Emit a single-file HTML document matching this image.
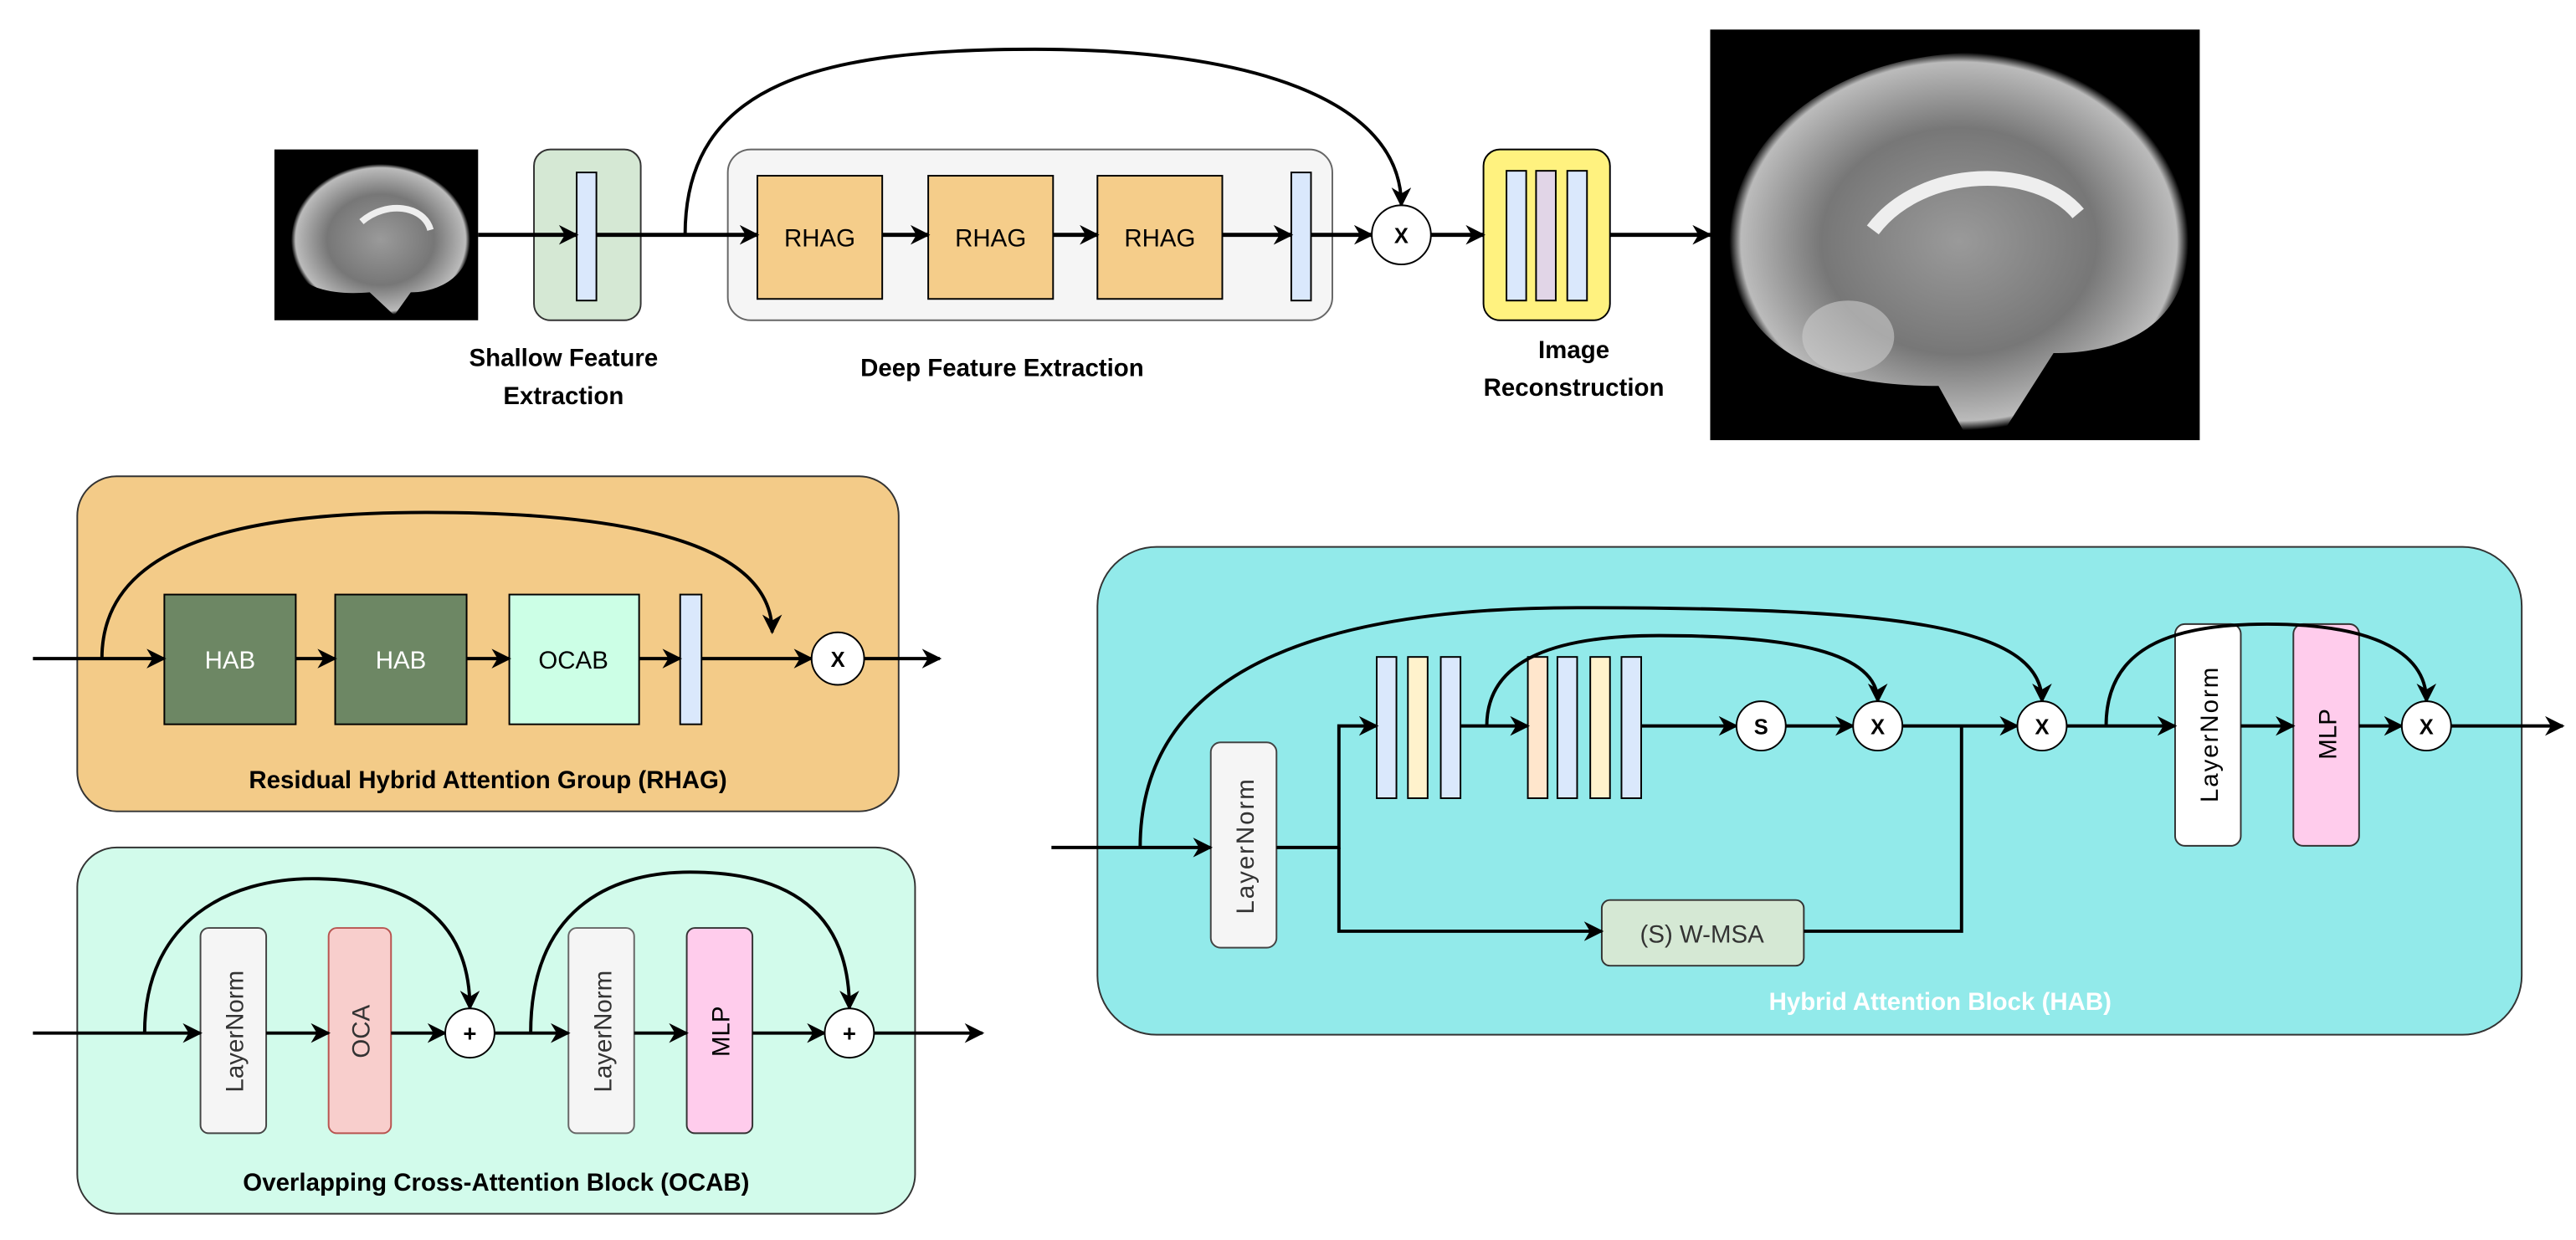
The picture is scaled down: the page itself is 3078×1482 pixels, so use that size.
<!DOCTYPE html>
<html><head><meta charset="utf-8"><style>
html,body{margin:0;padding:0;background:#fff;}
svg{display:block;}
text{font-family:"Liberation Sans",sans-serif;}
</style></head><body>
<svg width="3078" height="1482" viewBox="0 0 1568 755" xmlns="http://www.w3.org/2000/svg">
<defs>
<marker id="a" viewBox="0 0 10 10" refX="9" refY="5" markerWidth="5" markerHeight="6" orient="auto" markerUnits="userSpaceOnUse"><path d="M0,0 L10,5 L0,10 L3,5 z" fill="#000"/></marker>
<marker id="b" viewBox="0 0 10 10" refX="9" refY="5" markerWidth="12" markerHeight="12" orient="auto" markerUnits="userSpaceOnUse"><path d="M0,0 L10,5 L0,10 L3,5 z" fill="#000"/></marker>
<radialGradient id="br" cx="50%" cy="50%" r="50%"><stop offset="0" stop-color="#9a9a9a"/><stop offset="0.6" stop-color="#777"/><stop offset="0.95" stop-color="#bbb"/><stop offset="1" stop-color="#000"/></radialGradient>
</defs>
<g stroke-linecap="butt">
<!-- TOP ROW -->
<rect x="167" y="91" width="124" height="104" fill="#000"/>
<path d="M178,160 C172,120 200,98 235,100 C270,102 288,125 286,150 C284,170 265,178 250,178 L240,192 L225,178 C200,180 182,175 178,160z" fill="url(#br)"/>
<path d="M220,135 C235,122 258,125 262,140" stroke="#eee" stroke-width="4" fill="none"/>
<rect x="1041" y="18" width="298" height="250" fill="#000"/>
<path d="M1055,170 C1040,100 1100,35 1200,32 C1290,30 1335,80 1332,150 C1330,200 1290,215 1250,215 L1220,262 L1195,262 L1180,235 C1120,235 1070,220 1055,170z" fill="url(#br)"/>
<path d="M1140,140 C1170,100 1240,100 1265,130" stroke="#eee" stroke-width="9" fill="none"/>
<ellipse cx="1125" cy="205" rx="28" ry="22" fill="#ccc" opacity="0.6"/>
<rect x="325" y="91" width="65" height="104" rx="10" fill="#d5e8d4" stroke="#333" stroke-width="1"/>
<rect x="351" y="105" width="12" height="78" fill="#dae8fc" stroke="#000" stroke-width="1"/>
<rect x="443" y="91" width="368" height="104" rx="14" fill="#f5f5f5" stroke="#666" stroke-width="1"/>
<rect x="461" y="107" width="76" height="75" fill="#f5cd8a" stroke="#000" stroke-width="1"/>
<rect x="565" y="107" width="76" height="75" fill="#f5cd8a" stroke="#000" stroke-width="1"/>
<rect x="668" y="107" width="76" height="75" fill="#f5cd8a" stroke="#000" stroke-width="1"/>
<text x="499" y="150" font-size="15" text-anchor="middle">RHAG</text>
<text x="603" y="150" font-size="15" text-anchor="middle">RHAG</text>
<text x="706" y="150" font-size="15" text-anchor="middle">RHAG</text>
<rect x="786" y="105" width="12" height="78" fill="#dae8fc" stroke="#000" stroke-width="1"/>
<rect x="903" y="91" width="77" height="104" rx="10" fill="#fff27f" stroke="#000" stroke-width="1"/>
<rect x="917" y="104" width="12" height="79" fill="#dae8fc" stroke="#000" stroke-width="1"/>
<rect x="935" y="104" width="12" height="79" fill="#e1d5e7" stroke="#000" stroke-width="1"/>
<rect x="954" y="104" width="12" height="79" fill="#dae8fc" stroke="#000" stroke-width="1"/>
<g stroke="#000" stroke-width="2.5" fill="none">
<line x1="291" y1="143" x2="351" y2="143" marker-end="url(#b)"/>
<line x1="363" y1="143" x2="461" y2="143" marker-end="url(#b)"/>
<line x1="537" y1="143" x2="565" y2="143" marker-end="url(#b)"/>
<line x1="641" y1="143" x2="668" y2="143" marker-end="url(#b)"/>
<line x1="744" y1="143" x2="786" y2="143" marker-end="url(#b)"/>
<line x1="798" y1="143" x2="835" y2="143" marker-end="url(#b)"/>
<line x1="871" y1="143" x2="903" y2="143" marker-end="url(#b)"/>
<line x1="980" y1="143" x2="1041" y2="143" marker-end="url(#b)"/>
<path d="M417,143 C417,50 500,30 630,30 C760,30 853,60 853,125" stroke-width="2" marker-end="url(#b)"/>
</g>
<circle cx="853" cy="143" r="18" fill="#fff" stroke="#000" stroke-width="1"/>
<text x="853" y="148" font-size="13" text-anchor="middle" font-weight="bold">X</text>
<g font-size="15" font-weight="bold" text-anchor="middle">
<text x="343" y="223">Shallow Feature</text><text x="343" y="246">Extraction</text>
<text x="610" y="229">Deep Feature Extraction</text>
<text x="958" y="218">Image</text><text x="958" y="241">Reconstruction</text>
</g>

<!-- RHAG -->
<rect x="47" y="290" width="500" height="204" rx="24" fill="#f3cb88" stroke="#333" stroke-width="1"/>
<rect x="100" y="362" width="80" height="79" fill="#6d8764" stroke="#000" stroke-width="1"/>
<rect x="204" y="362" width="80" height="79" fill="#6d8764" stroke="#000" stroke-width="1"/>
<rect x="310" y="362" width="79" height="79" fill="#ccffe6" stroke="#000" stroke-width="1"/>
<rect x="414" y="362" width="13" height="79" fill="#dae8fc" stroke="#000" stroke-width="1"/>
<text x="140" y="407" font-size="15" fill="#fff" text-anchor="middle">HAB</text>
<text x="244" y="407" font-size="15" fill="#fff" text-anchor="middle">HAB</text>
<text x="349" y="407" font-size="15" text-anchor="middle">OCAB</text>
<g stroke="#000" stroke-width="2" fill="none">
<line x1="20" y1="401" x2="100" y2="401" marker-end="url(#b)"/>
<line x1="180" y1="401" x2="204" y2="401" marker-end="url(#b)"/>
<line x1="284" y1="401" x2="310" y2="401" marker-end="url(#b)"/>
<line x1="389" y1="401" x2="414" y2="401" marker-end="url(#b)"/>
<line x1="427" y1="401" x2="494" y2="401" marker-end="url(#b)"/>
<line x1="526" y1="401" x2="572" y2="401" marker-end="url(#b)"/>
<path d="M62,401 C62,330 150,312 260,312 C380,312 470,330 470,385" marker-end="url(#b)"/>
</g>
<circle cx="510" cy="401" r="16" fill="#fff" stroke="#000" stroke-width="1"/>
<text x="510" y="406" font-size="13" font-weight="bold" text-anchor="middle">X</text>
<text x="297" y="480" font-size="15" font-weight="bold" text-anchor="middle">Residual Hybrid Attention Group (RHAG)</text>

<!-- OCAB -->
<rect x="47" y="516" width="510" height="223" rx="24" fill="#d2fbeb" stroke="#333" stroke-width="1"/>
<rect x="122" y="565" width="40" height="125" rx="5" fill="#f5f5f5" stroke="#444" stroke-width="1"/>
<rect x="200" y="565" width="38" height="125" rx="5" fill="#f8cecc" stroke="#b85450" stroke-width="1"/>
<rect x="346" y="565" width="40" height="125" rx="5" fill="#f5f5f5" stroke="#666" stroke-width="1"/>
<rect x="418" y="565" width="40" height="125" rx="5" fill="#ffccec" stroke="#333" stroke-width="1"/>
<text transform="translate(148,628) rotate(-90)" font-size="15" fill="#333" text-anchor="middle">LayerNorm</text>
<text transform="translate(225,628) rotate(-90)" font-size="15" fill="#333" text-anchor="middle">OCA</text>
<text transform="translate(372,628) rotate(-90)" font-size="15" fill="#333" text-anchor="middle">LayerNorm</text>
<text transform="translate(444,628) rotate(-90)" font-size="15" text-anchor="middle">MLP</text>
<g stroke="#000" stroke-width="2" fill="none">
<line x1="20" y1="629" x2="122" y2="629" marker-end="url(#b)"/>
<line x1="162" y1="629" x2="200" y2="629" marker-end="url(#b)"/>
<line x1="238" y1="629" x2="271" y2="629" marker-end="url(#b)"/>
<line x1="301" y1="629" x2="346" y2="629" marker-end="url(#b)"/>
<line x1="386" y1="629" x2="418" y2="629" marker-end="url(#b)"/>
<line x1="458" y1="629" x2="502" y2="629" marker-end="url(#b)"/>
<line x1="532" y1="629" x2="598" y2="629" marker-end="url(#b)"/>
<path d="M88,629 C88,560 140,535 190,535 C250,535 286,560 286,614" marker-end="url(#b)"/>
<path d="M323,629 C323,555 370,531 420,531 C480,531 517,555 517,614" marker-end="url(#b)"/>
</g>
<circle cx="286" cy="629" r="15" fill="#fff" stroke="#000" stroke-width="1"/>
<circle cx="517" cy="629" r="15" fill="#fff" stroke="#000" stroke-width="1"/>
<text x="286" y="634" font-size="14" font-weight="bold" text-anchor="middle">+</text>
<text x="517" y="634" font-size="14" font-weight="bold" text-anchor="middle">+</text>
<text x="302" y="725" font-size="15" font-weight="bold" text-anchor="middle">Overlapping Cross-Attention Block (OCAB)</text>

<!-- HAB -->
<rect x="668" y="333" width="867" height="297" rx="36" fill="#92eaea" stroke="#333" stroke-width="1"/>
<rect x="737" y="452" width="40" height="125" rx="6" fill="#f5f5f5" stroke="#444" stroke-width="1"/>
<text transform="translate(763,515) rotate(-90)" font-size="15" fill="#333" text-anchor="middle" letter-spacing="1">LayerNorm</text>
<rect x="838" y="400" width="12" height="86" fill="#dae8fc" stroke="#000" stroke-width="1"/>
<rect x="857" y="400" width="12" height="86" fill="#fff2cc" stroke="#000" stroke-width="1"/>
<rect x="877" y="400" width="12" height="86" fill="#dae8fc" stroke="#000" stroke-width="1"/>
<rect x="930" y="400" width="12" height="86" fill="#ffe6cc" stroke="#000" stroke-width="1"/>
<rect x="948" y="400" width="12" height="86" fill="#dae8fc" stroke="#000" stroke-width="1"/>
<rect x="968" y="400" width="12" height="86" fill="#fff2cc" stroke="#000" stroke-width="1"/>
<rect x="987" y="400" width="12" height="86" fill="#dae8fc" stroke="#000" stroke-width="1"/>
<rect x="975" y="548" width="123" height="40" rx="5" fill="#d5e8d4" stroke="#333" stroke-width="1"/>
<text x="1036" y="574" font-size="15" fill="#333" text-anchor="middle">(S) W-MSA</text>
<rect x="1324" y="380" width="40" height="135" rx="6" fill="#fff" stroke="#333" stroke-width="1"/>
<rect x="1396" y="380" width="40" height="135" rx="6" fill="#ffccec" stroke="#333" stroke-width="1"/>
<text transform="translate(1350,447) rotate(-90)" font-size="15" text-anchor="middle" letter-spacing="1">LayerNorm</text>
<text transform="translate(1422,447) rotate(-90)" font-size="15" text-anchor="middle">MLP</text>
<g stroke="#000" stroke-width="2" fill="none">
<line x1="640" y1="516" x2="737" y2="516" marker-end="url(#b)"/>
<polyline points="777,516 815,516 815,442 838,442" marker-end="url(#b)"/>
<polyline points="815,516 815,567 975,567" marker-end="url(#b)"/>
<polyline points="1098,567 1194,567 1194,442"/>
<line x1="889" y1="442" x2="930" y2="442" marker-end="url(#b)"/>
<line x1="999" y1="442" x2="1057" y2="442" marker-end="url(#b)"/>
<line x1="1087" y1="442" x2="1128" y2="442" marker-end="url(#b)"/>
<line x1="1158" y1="442" x2="1228" y2="442" marker-end="url(#b)"/>
<line x1="1258" y1="442" x2="1324" y2="442" marker-end="url(#b)"/>
<line x1="1364" y1="442" x2="1396" y2="442" marker-end="url(#b)"/>
<line x1="1436" y1="442" x2="1462" y2="442" marker-end="url(#b)"/>
<line x1="1492" y1="442" x2="1560" y2="442" marker-end="url(#b)"/>
<path d="M694,516 C694,420 780,370 960,370 C1150,370 1243,380 1243,427" marker-end="url(#b)"/>
<path d="M905,442 C905,400 950,387 1010,387 C1090,387 1143,397 1143,427" marker-end="url(#b)"/>
<path d="M1282,442 C1282,395 1320,380 1380,380 C1440,380 1477,395 1477,427" marker-end="url(#b)"/>
</g>
<g fill="#fff" stroke="#000" stroke-width="1">
<circle cx="1072" cy="442" r="15"/><circle cx="1143" cy="442" r="15"/><circle cx="1243" cy="442" r="15"/><circle cx="1477" cy="442" r="15"/>
</g>
<g font-size="13" font-weight="bold" text-anchor="middle">
<text x="1072" y="447">S</text><text x="1143" y="447">X</text><text x="1243" y="447">X</text><text x="1477" y="447">X</text>
</g>
<text x="1181" y="615" font-size="15" font-weight="bold" fill="#fff" text-anchor="middle">Hybrid Attention Block (HAB)</text>
</g>
</svg>
</body></html>
